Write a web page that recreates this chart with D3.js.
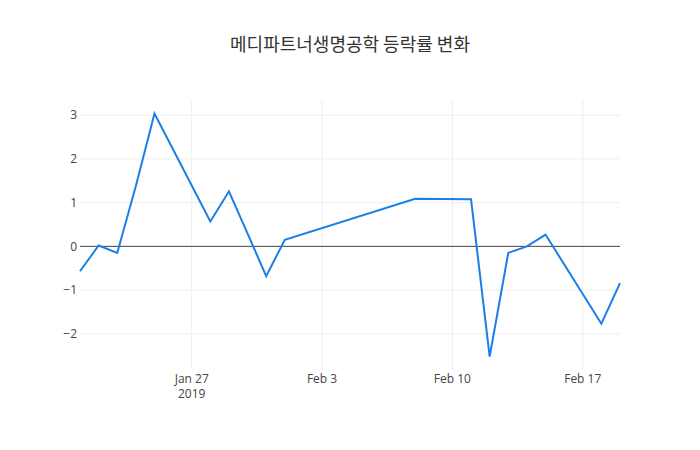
<!DOCTYPE html>
<html><head><meta charset="utf-8">
<script src="https://cdn.jsdelivr.net/npm/d3@7"></script>
<style>body{margin:0;background:#fff}svg{display:block}</style>
</head><body>
<script>
const title = "메디파트너생명공학 등락률 변화";
const dates = ["2019-01-21","2019-01-22","2019-01-23","2019-01-24","2019-01-25","2019-01-28","2019-01-29","2019-01-31","2019-02-01","2019-02-08","2019-02-11","2019-02-12","2019-02-13","2019-02-14","2019-02-15","2019-02-18","2019-02-19"];
const values = [-0.57,0.02,-0.15,1.38,3.04,0.57,1.26,-0.68,0.15,1.09,1.08,-2.52,-0.15,0.0,0.27,-1.77,-0.84];
const yTicks = [-2,-1,0,1,2,3];
const xTicks = ["2019-01-27","2019-02-03","2019-02-10","2019-02-17"];
const xTickLabels = [["Jan 27","2019"],["Feb 3"],["Feb 10"],["Feb 17"]];

const W=700,H=450, m={l:80,r:80,t:100,b:80};
const parse=d3.timeParse("%Y-%m-%d");
const data=dates.map((d,i)=>({x:parse(d),y:values[i]}));
const svg=d3.select("body").append("svg").attr("width",W).attr("height",H)
  .style("font-family","'Open Sans', sans-serif");
const x=d3.scaleTime().domain(d3.extent(data,d=>d.x)).range([m.l,W-m.r]);
const ext=d3.extent(values), pad=(ext[1]-ext[0])*0.0555;
const y=d3.scaleLinear().domain([ext[0]-pad,ext[1]+pad]).range([H-m.b,m.t]);

// grid
svg.append("g").selectAll("line").data(xTicks).join("line")
  .attr("x1",d=>x(parse(d))).attr("x2",d=>x(parse(d)))
  .attr("y1",m.t).attr("y2",H-m.b).attr("stroke","#eee").attr("stroke-width",1);
svg.append("g").selectAll("line").data(yTicks.filter(t=>t!==0)).join("line")
  .attr("x1",m.l).attr("x2",W-m.r).attr("y1",d=>y(d)).attr("y2",d=>y(d))
  .attr("stroke","#eee").attr("stroke-width",1);
// zero line
svg.append("line").attr("x1",m.l).attr("x2",W-m.r).attr("y1",y(0)).attr("y2",y(0))
  .attr("stroke","#444").attr("stroke-width",1);

// y labels
svg.append("g").selectAll("text").data(yTicks).join("text")
  .attr("x",m.l-3).attr("y",d=>y(d)).attr("dy","0.35em").attr("text-anchor","end")
  .attr("font-size",12).attr("fill","#444").text(d=>d<0?"\u2212"+Math.abs(d):d);
// x labels
const xl=svg.append("g").selectAll("text").data(xTicks).join("text")
  .attr("x",d=>x(parse(d))).attr("y",H-m.b+4).attr("text-anchor","middle")
  .attr("font-size",12).attr("fill","#444");
xl.each(function(d,i){
  const t=d3.select(this);
  xTickLabels[i].forEach((s,j)=>t.append("tspan").attr("x",x(parse(d))).attr("dy",j===0?"0.71em":"1.3em").text(s));
});

// line
svg.append("path").datum(data)
  .attr("d",d3.line().x(d=>x(d.x)).y(d=>y(d.y)))
  .attr("fill","none").attr("stroke","#1a7fe6").attr("stroke-width",2).attr("stroke-linejoin","miter");

svg.append("text").attr("x",W/2).attr("y",51).attr("text-anchor","middle")
  .attr("font-size",18).attr("fill","#333")
  .style("font-family","'Noto Sans CJK KR', 'Open Sans', sans-serif").text(title);
</script>
</body></html>
